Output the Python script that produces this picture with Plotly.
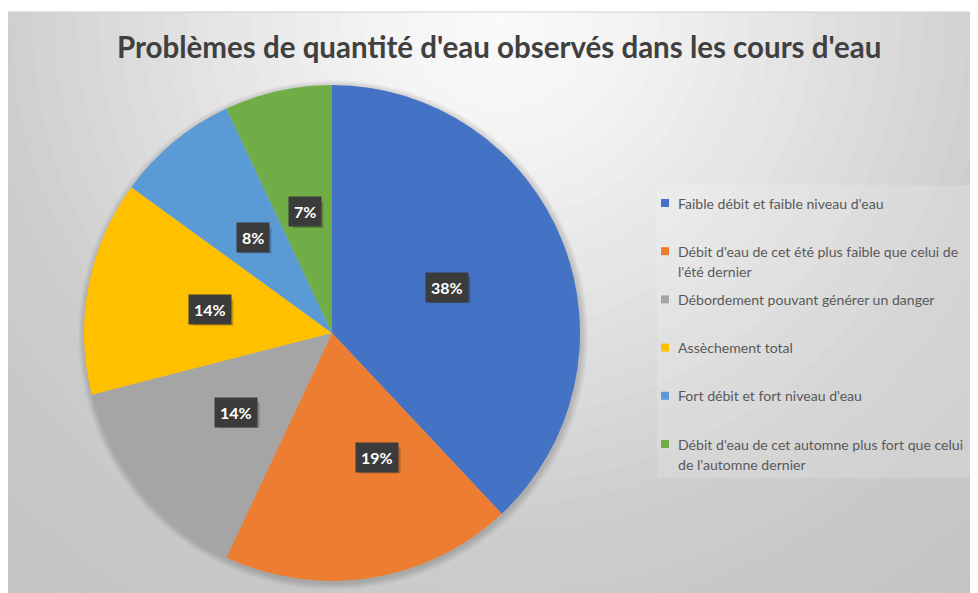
import math
import plotly.graph_objects as go

# ---------------- data ----------------
categories = [
    "Faible débit et faible niveau d'eau",
    "Débit d'eau de cet été plus faible que celui de<br>l'été dernier",
    "Débordement pouvant générer un danger",
    "Assèchement total",
    "Fort débit et fort niveau d'eau",
    "Débit d'eau de cet automne plus fort que celui<br>de l'automne dernier",
]
values = [38, 19, 14, 14, 8, 7]
colors = ["#4472C4", "#ED7D31", "#A5A5A5", "#FFC000", "#5B9BD5", "#70AD47"]
title_text = "Problèmes de quantité d'eau observés dans les cours d'eau"

# ---------------- layout helpers ----------------
W, H = 970, 585          # figure size (page has an 8px body margin)
OFF = 8                  # screen offset of the figure
cx, cy, R = 332, 333, 248          # pie centre / radius in screen pixels
FONT = "Lato, 'Open Sans', sans-serif"


def px(x):
    return (x - OFF) / W


def py(y):
    return (H - (y - OFF)) / H


shapes = []

# radial gradient background (banded rings)
gcx, gcy = 500, 15
stops = [(0, 251), (100, 246), (200, 238), (300, 228), (400, 218),
         (500, 207), (650, 199), (820, 194)]


def grey(r):
    for (r0, g0), (r1, g1) in zip(stops[:-1], stops[1:]):
        if r0 <= r <= r1:
            return g0 + (g1 - g0) * (r - r0) / (r1 - r0)
    return stops[-1][1]


shapes.append(dict(type="rect", xref="paper", yref="paper", x0=0, x1=1, y0=0, y1=1,
                   fillcolor="rgb(194,194,194)", line_width=0, layer="below"))
for r in range(820, 0, -22):
    g = int(round(grey(r)))
    shapes.append(dict(type="circle", xref="paper", yref="paper",
                       x0=px(gcx - r), x1=px(gcx + r), y0=py(gcy + r), y1=py(gcy - r),
                       fillcolor=f"rgb({g},{g},{g})", line_width=0, layer="below"))

# white outer border on top and thin frame line
shapes.append(dict(type="rect", xref="paper", yref="paper", x0=0, x1=1, y0=py(12), y1=1,
                   fillcolor="white", line_width=0, layer="below"))
shapes.append(dict(type="line", xref="paper", yref="paper", x0=0, x1=1, y0=py(12), y1=py(12),
                   line=dict(color="#d0d0d0", width=1), layer="below"))

# legend panel
shapes.append(dict(type="rect", xref="paper", yref="paper", x0=px(657), x1=1,
                   y0=py(478), y1=py(185), fillcolor="rgba(255,255,255,0.16)",
                   line_width=0, layer="below"))

# soft pie shadow
for k in range(1, 8):
    rr = R + k
    shapes.append(dict(type="circle", xref="paper", yref="paper",
                       x0=px(cx + 1 - rr), x1=px(cx + 1 + rr),
                       y0=py(cy + 2 + rr), y1=py(cy + 2 - rr),
                       fillcolor="rgba(0,0,0,0.025)", line_width=0, layer="below"))

fig = go.Figure(go.Pie(
    labels=[c.replace("<br>", " ") for c in categories],
    values=values,
    sort=False,
    direction="clockwise",
    rotation=0,
    marker=dict(colors=colors, line=dict(width=0)),
    textinfo="none",
    hoverinfo="label+percent",
    showlegend=False,
    domain=dict(x=[px(cx - R), px(cx + R)], y=[py(cy + R), py(cy - R)]),
))

annotations = []

# data labels (dark boxes) at mid-angle, half radius
label_nudge = [(0, 0), (26, 2), (0, 0), (0, 0), (0, 0), (0, 0)]
total = sum(values)
cum = 0
for v, (nx, ny) in zip(values, label_nudge):
    mid = (cum + v / 2) / total * 2 * math.pi
    cum += v
    lx = cx + 0.5 * R * math.sin(mid) + nx
    ly = cy - 0.5 * R * math.cos(mid) + ny
    txt = f"{round(v / total * 100)}%"
    bw = 9.5 * len(txt) + 12
    # drop shadow of the label box (pixel-sized rectangle)
    shapes.append(dict(type="rect", xref="paper", yref="paper",
                       xsizemode="pixel", ysizemode="pixel",
                       xanchor=px(lx + 3), yanchor=py(ly + 3),
                       x0=-bw / 2, x1=bw / 2, y0=-13, y1=13,
                       fillcolor="rgba(0,0,0,0.2)", line_width=0))
    annotations.append(dict(x=px(lx), y=py(ly), xref="paper", yref="paper",
                            xanchor="center", yanchor="middle",
                            text=f"<b>{txt}</b>", showarrow=False,
                            font=dict(family=FONT, size=16, color="white"),
                            bgcolor="#3b3b3b", borderpad=5))

# custom legend
leg_x, leg_y0, leg_step, line_gap = 676, 203, 48.2, 20
for i, (cat, col) in enumerate(zip(categories, colors)):
    y = leg_y0 + i * leg_step
    shapes.append(dict(type="rect", xref="paper", yref="paper",
                       x0=px(661), x1=px(669), y0=py(y + 4), y1=py(y - 4),
                       fillcolor=col, line_width=0))
    for j, line in enumerate(cat.split("<br>")):
        annotations.append(dict(x=px(leg_x), y=py(y + j * line_gap), xref="paper", yref="paper",
                                xanchor="left", yanchor="middle", text=line, showarrow=False,
                                font=dict(family=FONT, size=14.1, color="#595959")))

# title
annotations.append(dict(x=px(499), y=py(47), xref="paper", yref="paper",
                        xanchor="center", yanchor="middle",
                        text=f"<b>{title_text}</b>", showarrow=False,
                        font=dict(family=FONT, size=29.5, color="#404040")))

fig.update_layout(
    width=W, height=H,
    margin=dict(l=0, r=0, t=0, b=0),
    paper_bgcolor="white",
    plot_bgcolor="white",
    shapes=shapes,
    annotations=annotations,
)

fig.write_html("out.html")
